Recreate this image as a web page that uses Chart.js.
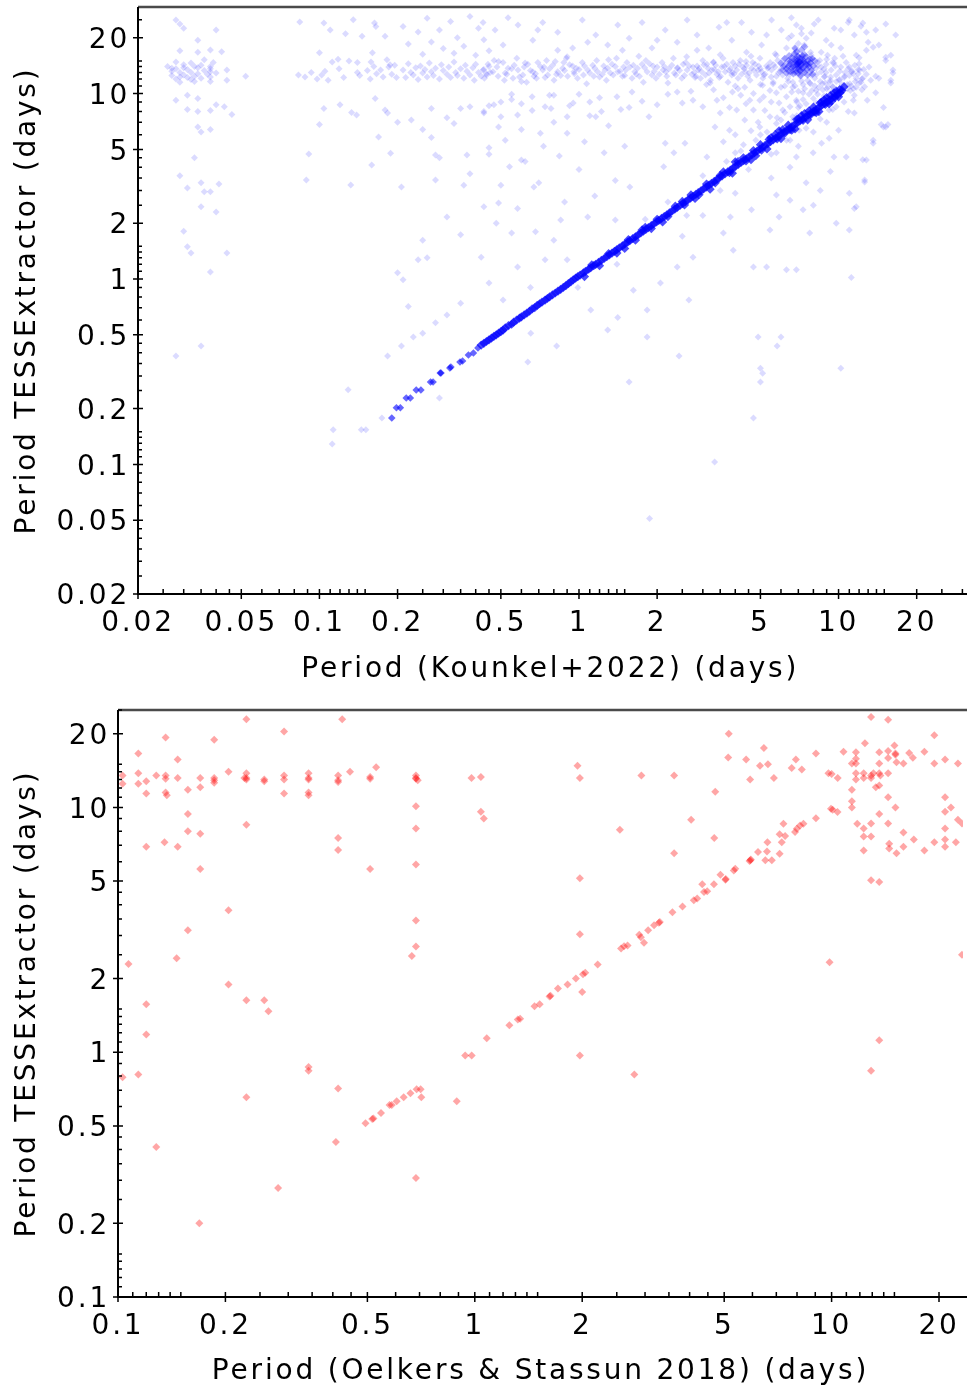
<!DOCTYPE html>
<html>
<head>
<meta charset="utf-8">
<script src="https://cdn.jsdelivr.net/npm/chart.js@4.4.0/dist/chart.umd.min.js"></script>
<style>
  html, body { margin: 0; padding: 0; background: #fff; overflow: hidden; }
  canvas { position: absolute; left: 0; }
  #grafKounkel { top: 0; }
  #grafOelkers { top: 690px; }
</style>
</head>
<body>
<canvas id="grafKounkel" width="967" height="690"></canvas>
<canvas id="grafOelkers" width="967" height="699"></canvas>
<script>
// Etiquetas de los ejes logaritmicos
const ticksKounkel = [0.02, 0.05, 0.1, 0.2, 0.5, 1, 2, 5, 10, 20];
const ticksOelkers = [0.1, 0.2, 0.5, 1, 2, 5, 10, 20];

// Periodos [Kounkel+2022, TESSExtractor] en dias
// Columna de periodos muy cortos a la izquierda
const kounkelIzquierda = [
  [0.028,24.9],[0.029,23.7],[0.030,22.5],[0.040,22.0],[0.034,19.4],[0.029,17.0],[0.034,16.7],[0.038,17.2],[0.042,16.8],
  [0.026,14.0],[0.027,13.2],[0.027,12.5],[0.028,14.8],[0.028,13.6],[0.028,12.0],[0.029,13.0],[0.029,11.5],[0.030,14.3],
  [0.030,12.6],[0.031,13.5],[0.031,12.2],[0.032,14.6],[0.032,13.0],[0.033,12.4],[0.033,11.6],[0.034,13.8],[0.034,12.8],
  [0.035,14.2],[0.035,12.1],[0.036,13.3],[0.036,15.2],[0.037,12.7],[0.038,14.0],[0.038,13.1],[0.038,12.3],[0.038,11.6],
  [0.038,13.6],[0.039,14.7],[0.040,12.9],[0.044,13.4],[0.044,11.8],[0.052,12.4],[0.030,13.8],[0.027,13.7],[0.033,14.0],
  [0.029,12.3],[0.032,11.9],
  [0.028,9.2],[0.031,9.8],[0.031,8.2],[0.034,9.4],[0.034,8.0],[0.038,8.1],[0.040,8.7],[0.043,8.5],[0.046,7.7],[0.034,6.6],
  [0.035,6.2],[0.038,6.4],[0.033,4.5],[0.029,3.6],[0.031,3.1],[0.035,3.3],[0.036,2.95],[0.038,2.95],[0.041,3.25],
  [0.035,2.45],[0.040,2.3],[0.030,1.81],[0.031,1.49],[0.032,1.38],[0.044,1.38],[0.038,1.09],[0.028,0.384],[0.035,0.435]
];

// Zona 0.08 - 0.45 dias
const kounkelCentro = [
  [0.084,24.3],[0.104,24.0],[0.110,22.0],[0.126,21.0],[0.135,25.0],[0.146,20.4],[0.163,24.0],[0.165,23.0],[0.179,20.4],
  [0.100,16.6],[0.112,14.8],[0.118,15.3],[0.13,15.0],[0.14,14.7],[0.158,14.8],[0.160,16.6],[0.182,15.2],[0.187,14.3],
  [0.083,12.6],[0.088,12.3],[0.093,13.0],[0.098,12.0],[0.102,12.6],[0.105,13.2],[0.108,11.8],[0.119,13.6],[0.124,12.2],
  [0.14,13.0],[0.143,12.5],[0.153,13.3],[0.157,12.0],[0.162,14.0],[0.166,12.8],[0.172,13.4],[0.176,12.3],[0.185,13.9],
  [0.19,12.7],[0.195,14.2],[0.198,12.2],
  [0.104,8.3],[0.12,8.7],[0.133,7.9],[0.139,7.66],[0.179,8.15],[0.183,7.85],[0.164,9.4],[0.10,6.8],[0.091,4.72],
  [0.089,3.42],[0.132,3.21],[0.159,4.12],[0.169,5.83],[0.188,4.77],[0.207,3.13],[0.2,7.0],
  [0.21,13.4],[0.215,12.2],[0.22,14.5],[0.225,13.0],[0.23,12.6],[0.235,13.8],[0.24,11.9],[0.245,14.1],[0.25,12.9],
  [0.255,13.5],[0.26,12.3],[0.265,14.6],[0.27,13.1],[0.275,12.5],[0.28,13.7],[0.29,12.0],[0.295,14.3],[0.3,13.3],
  [0.31,12.7],[0.315,13.9],[0.32,12.2],[0.33,14.8],[0.335,13.0],[0.34,12.5],[0.35,13.6],[0.36,12.1],[0.365,14.2],
  [0.37,13.2],[0.38,12.6],[0.39,13.8],[0.395,11.8],[0.40,14.4],[0.41,13.0],[0.42,12.4],[0.43,13.5],[0.44,12.8],[0.45,14.0],
  [0.21,23.0],[0.22,18.5],[0.24,21.5],[0.26,25.5],[0.27,19.0],[0.29,22.0],[0.3,17.5],[0.32,24.5],[0.34,20.0],[0.36,18.0],
  [0.38,26.0],[0.41,22.5],[0.43,19.5],[0.45,17.0],[0.25,16.3],[0.33,16.5],[0.4,16.1],
  [0.226,7.2],[0.27,8.3],[0.27,5.8],[0.25,6.4],[0.28,4.66],[0.29,4.5],[0.31,7.4],[0.33,6.9],[0.35,8.3],[0.38,8.5],
  [0.37,4.66],[0.38,3.7],[0.36,3.2],[0.35,1.73],[0.31,2.16],[0.28,3.42],[0.25,1.62],[0.24,1.27],[0.26,1.30],[0.20,1.08],
  [0.21,0.99],[0.22,0.71],[0.25,0.51],[0.28,0.58],[0.31,0.64],[0.35,0.74],
  [0.129,0.253],[0.113,0.154],[0.112,0.129],[0.145,0.154],[0.151,0.154],[0.174,0.178],[0.183,0.384],[0.207,0.435],
  [0.23,0.487],[0.29,0.228]
];

// Parte alta (P TESS > 16 d)
const kounkelSuperior = [
  [0.427,24.2],[0.475,22.0],[0.51,18.3],[0.582,23.4],[0.664,19.4],[0.725,24.2],[0.828,21.4],[0.945,17.6],[1.03,24.9],
  [1.16,20.7],[1.29,18.3],[1.41,23.4],[1.56,19.9],[1.75,24.2],[1.91,17.6],[2.15,22.0],[2.39,18.9],[2.61,24.9],[2.85,20.7],
  [3.16,17.6],[3.46,22.8],[3.88,19.4],[4.23,24.2],[4.62,21.4],[5.05,18.3],[5.52,24.9],[6.02,22.0],[6.41,19.9],[6.88,23.4],
  [7.38,18.3],[7.85,21.2],[8.35,24.9],[8.96,19.4],[9.62,22.5],[10.2,17.6],[10.9,24.2],[11.5,20.7],[12.2,23.1],[13.0,18.9],
  [13.9,22.0],[15.2,23.7],[6.58,25.6],[7.19,22.5],[8.06,23.7],[0.828,17.1],[2.85,17.1],[4.42,16.7],[11.7,16.1],[14.3,18.3],
  [16.6,20.7],[15.9,16.1],[7.51,19.9],[6.3,17.6],[5.28,20.7],[3.71,24.2],[2.0,19.4],[1.47,17.1],[1.08,18.9],[0.694,22.0],
  [0.533,25.6],[8.57,16.7],[9.37,18.3],[10.2,22.0],[6.88,16.7],[7.85,16.1],[5.76,16.1],
  [11.0,24.9],[12.4,24.0],[12.8,21.4],[13.6,17.8],[15.2,15.7],[6.6,20.5],[7.0,18.6],[7.2,21.0],[6.8,17.4]
];

// Banda horizontal cerca de 13-14 d
const kounkelBanda = [
  [0.427,13.4],[0.432,12.1],[0.446,14.4],[0.441,12.6],[0.466,13.1],[0.471,15.1],[0.488,12.4],[0.483,13.9],[0.51,14.7],
  [0.516,11.8],[0.533,13.7],[0.527,12.7],[0.557,12.1],[0.563,14.2],[0.582,13.4],[0.576,15.5],[0.608,12.6],[0.615,13.9],
  [0.635,14.4],[0.628,11.5],[0.664,13.1],[0.671,12.4],[0.694,14.7],[0.686,12.1],[0.725,13.4],[0.733,13.9],[0.758,12.6],
  [0.75,15.1],[0.792,14.2],[0.801,11.8],[0.828,13.1],[0.819,12.7],[0.865,13.7],[0.874,14.7],[0.904,12.4],[0.894,15.5],
  [0.945,14.1],[0.956,13.1],[0.987,12.1],[0.976,13.7],[1.03,14.7],[1.04,12.6],[1.08,13.4],[1.07,11.3],[1.13,14.2],
  [1.14,12.4],[1.18,13.1],[1.17,15.1],[1.23,12.7],[1.245,14.1],[1.29,13.7],[1.275,11.8],[1.34,14.4],[1.355,12.6],
  [1.41,13.1],[1.395,15.5],[1.47,12.4],[1.485,13.9],[1.53,14.7],[1.515,13.4],[1.60,12.1],[1.62,14.2],[1.68,13.7],
  [1.66,12.7],[1.75,14.4],[1.77,11.5],[1.83,13.1],[1.81,15.1],[1.91,12.6],[1.93,14.1],[2.00,13.9],[1.98,12.1],[2.09,14.7],
  [2.11,13.4],[2.18,12.4],[2.16,13.1],[2.28,14.2],[2.31,15.5],[2.39,13.7],[2.36,12.6],[2.49,12.1],[2.52,14.4],[2.61,13.4],
  [2.58,14.7],[2.72,12.7],[2.75,13.9],
  [2.85,14.1],[2.82,12.4],[2.88,13.4],[2.97,13.1],[3.0,15.1],[2.94,12.1],[3.11,14.4],[3.07,12.6],[3.14,13.7],[3.25,13.4],
  [3.21,11.8],[3.29,14.7],[3.40,12.7],[3.36,14.2],[3.44,13.1],[3.55,13.9],[3.51,12.4],[3.59,15.5],[3.71,14.4],[3.66,13.1],
  [3.75,11.5],[3.88,12.6],[3.83,13.7],[3.92,14.7],[4.05,13.4],[4.0,14.1],[4.1,12.1],[4.23,12.7],[4.18,15.1],[4.28,13.9],
  [4.42,14.2],[4.37,13.1],[4.47,12.4],[4.62,13.7],[4.56,11.8],[4.67,14.7],[4.83,12.6],[4.77,14.4],[4.89,13.4],[5.05,13.1],
  [4.98,15.5],[5.11,12.1],[5.28,14.1],[5.21,12.7],[5.34,13.7],[5.52,13.4],[5.45,14.7],[5.59,11.3],[5.76,12.4],[5.69,13.9],
  [5.83,15.1],[6.02,14.4],[5.95,13.1],[6.09,12.6],[6.30,13.7],[6.22,15.5],[6.37,12.1],[6.58,14.2],[6.5,12.7],[6.66,11.5],
  [6.88,13.1],[6.8,15.1],[6.96,14.7],[7.19,13.9],[7.1,12.4],[7.27,16.1],[7.51,14.4],[7.42,13.4],[7.6,11.8],[7.85,12.6],
  [7.76,14.7],[7.94,15.5],[8.20,13.7],[8.1,12.1],[8.3,14.2],[8.57,13.1],[8.47,15.1],[8.67,11.3],[8.96,14.4],[8.85,12.4],
  [9.07,16.1],[9.37,13.4],[9.25,11.5],[9.49,14.7],[9.79,12.6],[9.66,15.5],[10.2,13.9],[10.05,11.8],[10.7,14.7],[10.55,12.4],
  [11.2,13.1],[11.05,11.3],[11.7,12.1],[11.55,14.2],[12.2,11.5],[12.05,13.4],[12.8,12.7],[12.6,10.9],[13.3,11.8],[13.9,12.4],
  [0.455,13.0],[0.49,14.9],[0.52,12.9],[0.55,13.6],[0.59,12.3],[0.62,14.6],[0.65,13.3],[0.68,12.8],[0.71,14.0],[0.74,12.2],
  [0.77,13.6],[0.81,14.9],[0.85,12.5],[0.88,13.3],[0.92,14.3],[0.96,12.8],[1.0,13.5],[1.05,14.1],[1.1,12.9],[1.15,13.7],
  [1.2,12.3],[1.26,13.4],[1.32,12.9],[1.38,14.0],[1.44,13.2],[1.5,12.5],[1.57,13.9],[1.64,13.1],[1.71,12.4],[1.79,13.8],
  [1.87,14.5],[1.95,13.2],[2.04,12.7],[2.13,14.0],[2.22,13.6],[2.33,12.9],[2.44,13.3],[2.55,12.5],[2.66,14.1],[2.78,13.0],
  [2.9,13.7],[3.03,14.3],[3.17,12.9],[3.32,13.5],[3.47,12.2],[3.63,14.0],[3.79,13.3],[3.96,12.8],[4.14,14.4],[4.33,13.6],
  [4.52,12.9],[4.72,13.3],[4.93,14.1],[5.15,12.6],[5.38,13.9],[5.62,14.3],[5.87,12.9],[6.13,14.0],[6.4,13.2],[6.68,14.5],
  [6.97,13.7],[7.27,12.9],[7.58,14.2],[7.9,13.4],[8.23,12.7],[8.58,13.9],[8.94,13.0],[9.32,12.3],[9.71,14.1],[10.1,13.2],
  [10.5,12.2],[10.9,13.6],[11.4,12.8],[11.9,13.5],[12.4,12.1],
  [0.6,11.6],[0.9,15.8],[1.3,15.2],[1.7,15.9],[2.2,11.4],[2.6,15.8],[3.1,11.2],[3.5,16.2],[4.0,11.0],[4.6,15.9],[5.1,11.1],
  [5.7,16.4],[6.2,11.0],[6.7,16.0],[7.3,11.2],[7.8,16.7],[8.4,10.8],[9.0,15.3],[9.5,10.9],[10.4,15.9],[11.1,10.4],[12.0,15.6],
  [2.4,13.8],[2.8,12.2],[3.3,14.8],[3.9,13.0],[4.4,14.9],[5.0,13.6],[5.5,12.3],[6.0,13.5],[6.5,14.8],[7.1,13.1],[7.7,14.0],
  [8.3,14.8],[8.8,13.6],[9.6,14.6]
];

// Entre la banda y la diagonal, y por debajo de la diagonal
const kounkelMedio = [
  [0.43,7.85],[0.58,7.66],[0.49,6.6],[0.71,6.1],[0.78,8.3],[0.9,7.5],[1.16,7.5],[1.56,8.4],[1.86,7.5],[2.15,5.4],[2.56,5.4],
  [2.32,4.8],[3.11,4.55],[3.34,6.6],[3.5,7.85],[4.05,8.15],[4.55,9.2],[5.14,9.6],[5.44,7.5],[3.8,6.35],[2.75,9.2],[2.39,10.2],
  [3.2,11.4],[4.35,10.8],[5.76,10.1],[6.1,8.15],[7.74,11.4],[8.8,12.3],
  [9.2,8.15],[11.4,9.2],[11.5,7.85],[13.6,5.4],[14.6,6.8],[15.2,6.6],[16.2,12.9],[15.2,15.1],[12.4,4.4],[11.0,2.9],[12.6,3.33],
  [11.5,2.4],[11.0,1.84],[11.2,1.02],[10.0,6.35],[9.6,4.55],[10.7,4.55],[9.2,5.75],[7.98,4.8],[6.88,4.55],[6.5,2.66],[7.3,2.36],
  [7.74,1.77],[6.88,1.12],[6.3,1.12],[5.28,1.16],[4.7,1.16],[5.44,1.84],[5.9,2.16],[5.76,2.84],[4.62,2.36],[3.83,2.16],
  [3.6,1.77],[3.93,1.43],[2.75,1.31],[2.65,0.77],[2.39,1.16],[2.06,0.95],[1.83,0.68],[1.62,0.87],[1.41,0.62],[1.29,0.53],
  [1.11,0.68],[0.99,0.9],[0.9,1.27],[0.8,1.62],[0.85,2.08],[1.08,2.16],[1.38,2.08],[1.57,3.13],[2.12,4.03],[0.49,2.57],
  [0.43,2.45],[0.42,1.31],[0.45,0.95],[0.51,0.77],[0.58,1.16],[0.65,0.9],[0.74,1.27],[0.55,1.77],[0.67,3.13],[0.6,4.38],
  [0.45,5.1],[0.54,4.03],
  [4.7,8.15],[4.97,6.6],[5.76,6.9],[6.66,7.5],[6.88,9.2],[7.3,10.1],[8.2,10.4],[6.66,10.8],[5.44,10.4],[4.97,9.2],[4.35,7.2],
  [3.4,9.2],[7.74,8.15],[6.3,5.6],[5.76,4.8],[7.05,6.35],[10.4,10.4],
  [12.0,11.4],[13.1,13.9],[13.9,10.1],[14.9,8.4],[12.8,17.1],[15.9,11.8],[11.0,13.9],[11.7,10.8],[11.0,12.5],[11.3,13.2],
  [11.6,11.6],[11.9,12.8],[12.3,12.0],[10.8,11.2],[11.4,10.6],[12.0,14.5],[10.6,13.0],[12.5,13.5],[10.8,10.6],[11.2,11.0],
  [16.2,13.4],[14.3,12.1],[15.9,11.4],[14.9,6.6],[15.5,6.8],[12.8,4.38],[12.6,3.42],[11.7,2.45],[13.6,5.6],
  [0.43,8.0],[0.45,8.6],[0.5,9.0],[0.55,9.9],[0.6,8.8],[0.66,9.6],[0.74,8.5],[0.8,9.8],[0.92,8.6],[1.0,9.9],[1.1,9.0],
  [1.22,8.0],[1.4,9.6],[1.6,10.2],[1.75,9.1],[2.0,8.7],[2.2,9.9],[2.5,8.9],[2.7,10.3],[3.0,8.5],[3.3,10.5],[3.6,9.5],
  [3.9,10.2],[4.2,9.8],
  [0.47,8.7],[0.5,7.5],[0.52,5.6],[0.55,9.3],[0.6,6.4],[0.62,4.3],[0.66,8.1],[0.7,3.3],[0.73,5.2],[0.77,9.8],[0.8,7.0],
  [0.84,4.6],[0.88,2.6],[0.9,6.1],[0.95,8.9],[1.0,3.9],[1.05,5.5],[1.1,7.6],[1.15,2.8],[1.2,9.5],[1.25,4.8],[1.3,6.7],
  [1.38,3.4],[1.45,8.2],[1.5,5.2],[0.58,2.4],[0.68,1.8],[0.5,3.2],[0.45,4.7],[0.48,2.0],
  [0.652,0.51],[0.82,0.435],[0.635,0.357],[1.83,0.487],[1.56,0.278],[2.43,0.384],[4.9,0.487],[6.0,0.487],[5.8,0.435],
  [5.0,0.33],[5.1,0.31],[5.0,0.278],[10.2,0.33],[4.7,0.178],[3.33,0.103],[1.87,0.051],
  [3.0,3.6],[3.5,3.0],[4.0,4.8],[4.5,3.9],[5.0,6.0],[5.5,4.7],[6.0,7.2],[6.5,5.6],[7.0,8.4],[7.5,6.5],[8.0,9.4],[8.5,7.3],
  [9.0,10.6],[9.5,8.2],[2.2,2.6],[2.6,2.2],[1.8,2.1],[1.4,1.2],
  [3.6,5.5],[3.8,8.4],[4.0,6.0],[4.1,10.6],[4.3,5.3],[4.4,8.8],[4.6,6.3],[4.7,10.0],[4.9,7.0],[5.0,11.2],[5.2,8.1],[5.3,6.2],
  [5.5,9.0],[5.6,11.5],[5.8,7.4],[5.9,8.9],[6.0,10.8],[6.2,7.9],[6.3,9.6],[6.4,11.6],[6.5,8.5],[6.6,10.2],[6.7,7.2],
  [6.8,11.0],[6.9,9.0],[7.0,10.3],[7.1,8.6],[7.2,11.7],[7.3,9.3],[7.4,10.6],[7.5,8.8],[7.7,9.9],[7.8,11.3],[7.9,10.4],
  [8.1,11.0],[8.3,9.9],[8.5,11.6],[8.7,10.5],[8.9,11.4],[9.1,10.8],[9.3,11.8],[9.5,10.9],[9.8,11.6],[10.1,11.9],[10.3,11.2],
  [6.1,6.2],[6.9,7.6],[7.6,8.0],[8.2,8.9],[8.8,9.7],[9.4,10.2],[5.4,5.8],[4.8,5.6],[4.2,4.9],[3.7,4.3],
  [7.0,5.2],[8.0,6.2],[8.6,5.4],[9.0,7.0],[9.8,8.5],[10.5,9.0],[10.9,8.0],[11.5,9.8],[12.3,10.5],[12.9,9.2],
  [5.5,3.5],[6.5,4.0],[7.5,3.3],[8.5,3.0],[9.3,3.8],[4.0,2.9],[3.0,2.2],[2.5,1.7],[8.0,2.5],[9.8,2.0]
];

// Acumulacion densa alrededor de 7 d / 14 d
const kounkelNucleo = [
  [6.2,14.2],[6.3,13.6],[6.4,15.0],[6.5,14.4],[6.5,13.1],[6.6,15.6],[6.7,14.0],[6.7,12.8],[6.8,14.8],[6.8,13.5],
  [6.9,15.3],[6.9,14.3],[7.0,14.6],[7.0,13.9],[7.0,15.8],[7.1,14.9],[7.1,13.3],[7.2,14.4],[7.2,15.4],[7.3,13.8],
  [7.3,14.7],[7.4,16.2],[7.4,13.0],[7.5,14.3],[7.6,15.1],[7.6,12.6],[7.7,13.9],[6.95,14.5],[7.05,14.7],[7.15,14.1],
  [6.85,14.1],[6.6,13.8],[7.35,14.9],[6.75,16.4],[7.0,12.9],[7.25,16.0],[7.8,14.6],[6.1,13.4],[7.9,15.4],[6.9,16.8],
  [6.0,14.6],[6.2,15.4],[6.3,12.9],[6.45,16.0],[6.55,14.9],[6.65,13.3],[6.75,15.2],[6.85,13.0],[6.95,15.9],[7.05,13.5],
  [7.1,15.5],[7.15,12.5],[7.25,13.6],[7.3,15.2],[7.45,14.6],[7.5,15.8],[7.55,13.5],[7.65,14.4],[7.75,15.3],[7.85,13.3],
  [8.0,14.1],[8.1,15.0],[7.95,12.7],[6.4,14.0],[7.2,17.2],[6.8,17.6],[7.4,17.9],[7.0,14.2],[7.1,14.8],[6.9,14.9]
];

// Tramo punteado de periodos cortos (P TESS ~ P Kounkel)
const kounkelDiagCorta = [
  [0.19,0.178],[0.198,0.202],[0.205,0.202],[0.216,0.228],[0.224,0.228],[0.236,0.252],[0.246,0.252],[0.268,0.278],
  [0.274,0.278],[0.292,0.311],[0.294,0.311],[0.318,0.331],[0.321,0.335],[0.348,0.357],[0.356,0.361],[0.375,0.389],
  [0.392,0.399],[0.408,0.425]
];

// Tramo continuo de la diagonal
const kounkelDiagonal = [
  [0.42,0.44],[0.43,0.45],[0.44,0.46],[0.45,0.47],[0.46,0.48],[0.47,0.49],[0.48,0.50],[0.49,0.51],[0.50,0.52],[0.51,0.53],
  [0.52,0.545],[0.535,0.56],[0.55,0.57],[0.56,0.585],[0.575,0.60],[0.59,0.615],[0.60,0.625],[0.615,0.64],[0.63,0.655],
  [0.645,0.67],[0.66,0.69],[0.675,0.70],[0.69,0.72],[0.705,0.735],[0.72,0.75],[0.74,0.77],[0.755,0.785],[0.77,0.80],
  [0.79,0.82],[0.81,0.84],[0.83,0.86],[0.85,0.88],[0.87,0.90],[0.89,0.92],[0.91,0.945],[0.93,0.965],[0.95,0.99],
  [0.97,1.01],[0.99,1.03],[1.01,1.05],[1.04,1.08],[1.06,1.10],[1.09,1.13],[1.11,1.15],[1.14,1.18],[1.16,1.20],[1.19,1.23],
  [1.22,1.26],[1.25,1.29],[1.28,1.32],[1.31,1.35],[1.34,1.38],[1.37,1.41],[1.40,1.44],[1.43,1.47],[1.47,1.51],[1.50,1.54],
  [1.54,1.58],[1.57,1.61],[1.61,1.65],[1.65,1.69],[1.69,1.73],[1.73,1.77],[1.77,1.81],[1.81,1.85],[1.85,1.89],[1.90,1.94],
  [1.94,1.98],[1.99,2.03],[2.03,2.07],[2.08,2.12],[2.13,2.17],[2.18,2.22],[2.23,2.27],[2.28,2.32],[2.34,2.38],[2.39,2.43],
  [2.45,2.49],[2.51,2.55],[2.57,2.61],[2.63,2.67],[2.69,2.73],[2.75,2.79],[2.82,2.86],[2.88,2.92],[2.95,2.99],[3.02,3.06],
  [3.09,3.13],[3.17,3.21],[3.24,3.28],[3.32,3.36],[3.40,3.44],[3.48,3.52],[3.56,3.60],[3.65,3.69],[3.74,3.78],[3.83,3.87],
  [3.92,3.96],[4.01,4.05],[4.11,4.15],[4.21,4.25],[4.31,4.35],[4.41,4.45],[4.52,4.56],[4.63,4.67],[4.74,4.78],[4.85,4.89],
  [4.97,5.01],[5.09,5.13],[5.21,5.25],[5.34,5.37],[5.47,5.50],[5.60,5.63],[5.73,5.76],[5.87,5.90],[6.01,6.04],[6.16,6.18],
  [6.31,6.33],[6.46,6.48],[6.61,6.63],[6.77,6.79],[6.94,6.95],[7.10,7.12],[7.27,7.29],[7.45,7.46],[7.63,7.64],[7.81,7.82],
  [8.00,8.01],[8.19,8.20],[8.39,8.39],[8.59,8.60],[8.80,8.80],[9.01,9.01],[9.23,9.22],[9.45,9.44],[9.68,9.66],[9.91,9.89],
  [10.15,10.1],
  [3.2,3.05],[3.5,3.62],[3.9,3.72],[4.3,4.5],[4.6,4.4],[5.0,5.3],[5.3,5.03],[5.7,6.0],[6.0,5.72],[6.4,6.75],[6.8,6.45],
  [7.2,7.6],[7.6,7.22],[8.0,8.45],[8.4,8.0],[8.8,9.25],[9.2,8.8],[9.6,10.1],[10.0,9.6],[10.5,10.9],[1.5,1.46],[1.8,1.9],
  [2.1,2.03],[2.5,2.62],[2.8,2.72],[4.0,4.28],[4.8,4.62],[5.5,5.78],[6.2,6.1],[7.0,7.3],[7.8,7.68],[9.0,9.5],[10.3,10.4],
  [5.9,6.3],[6.6,6.35],[7.4,7.8],[8.2,7.9],[8.6,9.0],[9.4,9.1],[9.8,10.3],
  [1.05,1.03],[1.12,1.19],[1.2,1.18],[1.3,1.37],[1.4,1.38],[1.55,1.63],[1.65,1.62],[1.75,1.84],[1.9,1.87],[2.0,2.1],
  [2.2,2.17],[2.35,2.47],[2.55,2.51],[2.7,2.84],[2.9,2.85],[3.1,3.25],[3.35,3.3],[3.6,3.78],[3.8,3.74],[4.1,4.3],
  [4.4,4.33],[4.7,4.93],[5.05,4.96],[5.4,5.66],[5.8,5.7],[6.1,6.4],[6.5,6.39],[6.9,7.24],[7.3,7.17],[7.7,8.07],
  [8.1,7.96],[8.5,8.9],[8.9,8.75],[9.3,9.74],[9.7,9.53],[10.1,10.5]
];

// Periodos [Oelkers & Stassun 2018, TESSExtractor] en dias
const oelkersPuntos = [
  [0.103,13.5],[0.103,12.5],[0.114,16.6],[0.114,13.8],[0.114,12.5],[0.12,12.8],[0.12,11.4],[0.12,6.9],[0.12,1.57],
  [0.12,1.18],[0.107,2.29],[0.128,13.5],[0.136,19.3],[0.136,13.5],[0.136,13.1],[0.136,11.5],[0.137,11.2],[0.135,7.2],
  [0.146,2.42],[0.147,15.7],[0.147,13.2],[0.147,6.9],[0.157,11.8],[0.157,9.4],[0.157,8.0],[0.157,3.15],[0.17,13.2],
  [0.17,12.1],[0.17,7.8],[0.17,5.6],[0.186,18.9],[0.186,13.2],[0.186,12.9],[0.186,12.6],[0.204,14.0],[0.204,3.8],
  [0.204,1.89],[0.229,22.9],[0.229,13.8],[0.226,13.2],[0.229,13.2],[0.229,13.0],[0.229,8.5],[0.229,1.63],[0.257,13.0],
  [0.257,12.8],[0.257,1.63],[0.264,1.47],[0.292,20.4],[0.292,13.5],[0.292,13.0],[0.292,11.4],[0.342,13.8],[0.342,13.2],
  [0.342,13.0],[0.342,11.5],[0.342,11.2],[0.414,13.5],[0.414,12.9],[0.414,12.7],[0.414,7.5],[0.414,6.7],[0.425,22.9],
  [0.447,14.0],[0.509,13.3],[0.509,13.1],[0.509,5.6],[0.529,14.6],[0.684,13.5],[0.684,13.2],[0.684,13.1],[0.692,12.9],
  [0.684,10.1],[0.684,8.2],[0.684,5.85],[0.684,3.45],[0.684,2.7],[0.666,2.47],[0.979,13.2],
  [1.04,13.3],[1.04,9.6],[1.06,9.0],[1.94,14.8],[1.97,13.2],[1.97,5.13],[1.97,3.03],[2.0,1.76],
  [1.08,1.14],[1.25,1.29],[1.32,1.36],[1.34,1.37],[1.47,1.54],[1.52,1.57],[1.62,1.69],[1.63,1.70],[1.71,1.82],[1.82,1.89],
  [1.92,2.0],[2.01,2.08],[2.04,2.11],[2.21,2.28],[2.57,2.65],[2.62,2.71],[2.68,2.73],[2.89,3.02],[2.92,2.95],[2.98,2.80],
  [3.06,3.15],[3.18,3.30],[3.28,3.38],[3.30,3.40],[3.58,3.73],[3.82,3.94],[4.11,4.18],[4.20,4.25],[4.34,4.85],[4.39,4.51],
  [4.48,4.55],[4.68,4.85],[4.88,5.31],[5.04,5.07],[5.05,5.10],[5.32,5.53],[5.37,5.62],[5.89,6.04],[5.94,6.13],[5.92,6.08],
  [6.22,6.57],[6.52,6.08],[6.59,6.61],[6.61,7.21],[6.80,6.08],[7.15,6.47],[7.15,7.76],[7.25,7.21],[7.33,8.58],[7.41,7.64],
  [7.90,7.93],[7.99,8.18],[8.16,8.44],[8.34,8.58],[9.04,9.04],[9.96,9.88],[10.07,9.79],[10.39,9.57],
  [2.55,8.1],[2.93,13.5],[3.62,13.5],[3.62,6.5],[4.04,8.9],[4.69,7.5],[4.72,11.6],[5.13,16.0],[5.15,20.0],[5.76,15.7],
  [5.91,13.0],[6.3,14.8],[6.46,17.5],[6.63,15.0],[6.89,13.2],[7.73,14.5],[7.94,15.7],[8.25,14.3],[9.04,16.6],[9.8,13.8],
  [10.0,13.7],[10.4,13.2],[9.87,2.33],[10.8,16.9],[11.4,11.8],[11.4,10.6],[11.4,10.0],[11.4,15.1],[11.7,16.8],[11.7,15.8],
  [11.7,15.1],[11.7,13.8],[11.7,13.0],[11.8,8.58],[12.3,13.8],[12.3,13.2],[12.3,8.2],[12.3,6.67],[12.3,7.6],[12.4,18.3],
  [12.9,13.2],[12.9,13.5],[13.1,13.8],[13.3,12.1],[13.6,12.3],[12.9,8.6],[12.9,7.6],[12.9,5.04],[13.6,4.96],[12.9,23.4],
  [13.6,16.8],[13.6,15.1],[13.6,13.8],[13.7,13.5],[13.6,9.4],[14.4,22.8],[14.4,17.0],[14.4,15.9],[14.4,13.8],[14.4,11.0],
  [14.4,8.6],[14.5,7.1],[14.5,6.8],[15.0,17.9],[15.1,16.6],[15.1,16.4],[15.2,15.3],[15.1,10.0],[15.2,6.5],[15.9,15.1],
  [15.9,7.9],[15.9,6.9],[16.5,16.7],[16.9,15.95],[17.0,7.4],[18.2,16.9],[18.2,6.67],[19.4,19.7],[19.4,15.1],[19.4,7.2],
  [20.8,15.7],[20.8,11.0],[20.8,9.6],[20.8,8.2],[20.8,7.4],[20.8,6.9],[21.6,10.0],[22.3,7.2],[22.6,15.1],[22.6,8.9],
  [23.2,8.6],[23.2,2.5],
  [0.103,0.79],[0.114,0.81],[0.128,0.41],[0.169,0.2],[0.229,0.655],[0.281,0.279],[0.342,0.87],[0.342,0.84],[0.408,0.43],
  [0.414,0.71],[0.494,0.513],[0.516,0.533],[0.52,0.536],[0.546,0.565],[0.577,0.608],[0.585,0.608],[0.604,0.63],[0.632,0.655],
  [0.66,0.68],[0.687,0.706],[0.705,0.706],[0.708,0.655],[0.684,0.306],[0.89,0.63],[0.94,0.97],[0.98,0.97],[1.97,0.97],
  [2.8,0.81],[12.9,0.84],[13.6,1.12]
];

const FUENTE = { family: "'DejaVu Sans', sans-serif", size: 28 };
const ESPACIADO = '2.8px';
const MANT_MAYOR = [1, 2, 5];
const MANT_MENOR = [1.1, 1.2, 1.3, 1.4, 1.5, 2.5, 3, 3.5, 4, 4.5, 6, 7, 8, 9];

function marcas(escala, mantisas) {
  const lista = [];
  for (let e = -3; e <= 2; e++) {
    for (const m of mantisas) {
      const v = m * Math.pow(10, e);
      if (v >= escala.min * 0.999 && v <= escala.max * 1.001) lista.push(v);
    }
  }
  return lista;
}

// Ejes estilo TOPCAT: linea superior gris, ejes negros y marcas menores hacia dentro
const ejesPlugin = {
  id: 'ejesTopcat',
  beforeUpdate(chart) { chart.ctx.letterSpacing = ESPACIADO; },
  beforeDraw(chart) { chart.ctx.letterSpacing = ESPACIADO; },
  afterDraw(chart) {
    const { ctx, chartArea: a, scales: { x, y } } = chart;
    const derecha = chart.width;
    ctx.save();
    ctx.strokeStyle = '#4a4a4a';
    ctx.lineWidth = 2.5;
    ctx.beginPath();
    ctx.moveTo(a.left, a.top);
    ctx.lineTo(derecha, a.top);
    ctx.stroke();

    ctx.strokeStyle = '#000';
    ctx.lineWidth = 2;
    ctx.beginPath();
    ctx.moveTo(a.left, a.top);
    ctx.lineTo(a.left, a.bottom);
    ctx.lineTo(derecha, a.bottom);
    ctx.stroke();

    ctx.lineWidth = 1.5;
    ctx.beginPath();
    marcas(x, MANT_MAYOR).forEach(v => {
      const p = x.getPixelForValue(v);
      ctx.moveTo(p, a.bottom - 5); ctx.lineTo(p, a.bottom + 5);
    });
    marcas(x, MANT_MENOR).forEach(v => {
      const p = x.getPixelForValue(v);
      ctx.moveTo(p, a.bottom - 5); ctx.lineTo(p, a.bottom);
    });
    marcas(y, MANT_MAYOR).forEach(v => {
      const p = y.getPixelForValue(v);
      ctx.moveTo(a.left - 5, p); ctx.lineTo(a.left + 5, p);
    });
    marcas(y, MANT_MENOR).forEach(v => {
      const p = y.getPixelForValue(v);
      ctx.moveTo(a.left, p); ctx.lineTo(a.left + 4, p);
    });
    ctx.stroke();
    ctx.restore();
  }
};

function ejeLog(eje, horizontal) {
  return {
    type: 'logarithmic',
    position: horizontal ? 'bottom' : 'left',
    min: eje.min,
    max: eje.max,
    grid: { display: false, drawTicks: false },
    border: { display: false },
    ticks: {
      autoSkip: false, maxRotation: 0, minRotation: 0,
      padding: horizontal ? 13 : 8,
      labelOffset: horizontal ? 0 : 3,
      color: '#000', font: FUENTE,
      callback: v => String(v)
    },
    afterBuildTicks: s => { s.ticks = eje.ticks.map(v => ({ value: v })); },
    afterFit: s => {
      if (horizontal) s.height = eje.alto; else s.width = eje.ancho;
      s.paddingLeft = s.paddingRight = s.paddingTop = s.paddingBottom = 0;
    },
    title: {
      display: true, text: eje.titulo, color: '#000', font: FUENTE,
      padding: horizontal ? { top: 0, bottom: eje.pie } : { top: 11, bottom: 0 }
    }
  };
}

function crearGrafico(idCanvas, cfg) {
  const ctx = document.getElementById(idCanvas).getContext('2d');
  return new Chart(ctx, {
    type: 'scatter',
    data: {
      datasets: cfg.series.map(s => ({
        data: s.puntos.map(([px, py]) => ({ x: px, y: py })),
        pointStyle: 'rectRot',
        pointRadius: s.radio,
        pointBorderWidth: 0,
        borderWidth: 0,
        pointBackgroundColor: s.color,
        backgroundColor: s.color
      }))
    },
    options: {
      responsive: false,
      animation: false,
      events: [],
      layout: { padding: { top: cfg.margenSup, right: 0, bottom: 0, left: 0 } },
      plugins: { legend: { display: false }, tooltip: { enabled: false } },
      scales: { x: ejeLog(cfg.x, true), y: ejeLog(cfg.y, false) }
    },
    plugins: [ejesPlugin]
  });
}

const azulTenue = 'rgba(0,0,255,0.14)';
crearGrafico('grafKounkel', {
  margenSup: 7,
  x: { min: 0.02, max: 30, ticks: ticksKounkel, alto: 96, pie: 3, titulo: 'Period (Kounkel+2022) (days)' },
  y: { min: 0.02, max: 29.3, ticks: ticksKounkel, ancho: 138, titulo: 'Period TESSExtractor (days)' },
  series: [
    { puntos: kounkelIzquierda, radio: 3.5, color: azulTenue },
    { puntos: kounkelCentro, radio: 3.5, color: azulTenue },
    { puntos: kounkelSuperior, radio: 3.5, color: azulTenue },
    { puntos: kounkelBanda, radio: 3.5, color: azulTenue },
    { puntos: kounkelMedio, radio: 3.5, color: azulTenue },
    { puntos: kounkelNucleo, radio: 3.8, color: 'rgba(0,0,255,0.3)' },
    { puntos: kounkelDiagCorta, radio: 3.8, color: 'rgba(0,0,255,0.6)' },
    { puntos: kounkelDiagonal, radio: 4.6, color: 'rgba(0,0,255,0.7)' }
  ]
});

crearGrafico('grafOelkers', {
  margenSup: 20,
  x: { min: 0.1, max: 23.35, ticks: ticksOelkers, alto: 92, pie: 0, titulo: 'Period (Oelkers & Stassun 2018) (days)' },
  y: { min: 0.1, max: 25, ticks: ticksOelkers, ancho: 118, titulo: 'Period TESSExtractor (days)' },
  series: [
    { puntos: oelkersPuntos, radio: 4, color: 'rgba(255,0,0,0.35)' }
  ]
});
</script>
</body>
</html>
